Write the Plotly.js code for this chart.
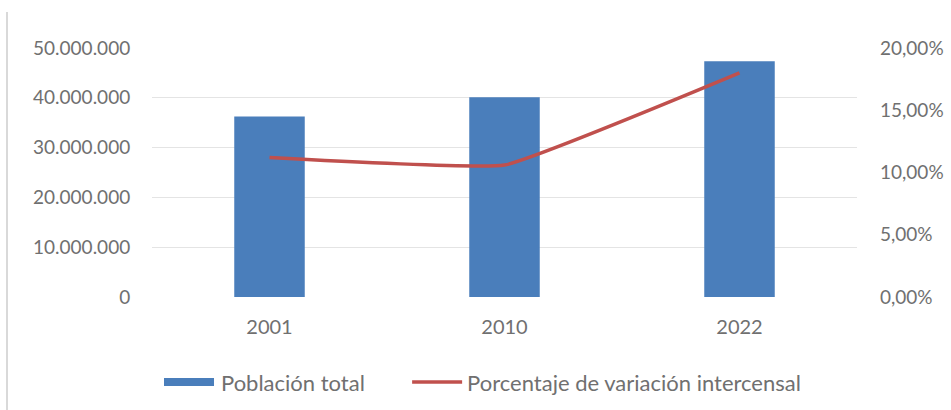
<!DOCTYPE html>
<html>
<head>
<meta charset="utf-8">
<script src="https://cdn.plot.ly/plotly-3.0.1.min.js"></script>
<style>html,body{margin:0;padding:0;background:#fff;}#chart{width:951px;height:410px;}</style>
</head>
<body>
<div id="chart"></div>
<script>
const years = ["2001", "2010", "2022"];
const poblacionTotal = [36260130, 40117096, 47327407];
const variacionIntercensal = [0.112, 0.106, 0.180];
const leftTicks = [0, 10000000, 20000000, 30000000, 40000000, 50000000];
const rightTicks = [0, 0.05, 0.10, 0.15, 0.20];

const FONT = "Lato, 'Open Sans', sans-serif";
const TXT = "#707070";

const traces = [
  {
    type: "bar",
    name: "Población total",
    x: years,
    y: poblacionTotal,
    marker: {color: "#4a7ebb"},
    yaxis: "y",
    legend: "legend"
  },
  {
    type: "scatter",
    mode: "lines",
    name: "Porcentaje de variación intercensal",
    x: years,
    y: variacionIntercensal,
    line: {color: "#c0504d", width: 3.5, shape: "spline", smoothing: 0.3},
    yaxis: "y2",
    legend: "legend2"
  }
];

const legendBase = {
  orientation: "h",
  xref: "container", yref: "container",
  xanchor: "left",
  y: 0.068, yanchor: "middle",
  font: {family: FONT, size: 22, color: TXT},
  itemwidth: 50,
  bgcolor: "rgba(0,0,0,0)"
};

const layout = {
  width: 951,
  height: 410,
  margin: {l: 152, r: 94, t: 48, b: 113},
  paper_bgcolor: "#ffffff",
  plot_bgcolor: "#ffffff",
  separators: ",.",
  font: {family: FONT, size: 19, color: TXT},
  bargap: 0.7,
  showlegend: true,
  legend: Object.assign({}, legendBase, {x: 0.1693}),
  legend2: Object.assign({}, legendBase, {x: 0.4281}),
  xaxis: {
    type: "category",
    showgrid: false,
    zeroline: false,
    showline: false,
    ticks: "",
    ticklabelstandoff: 16,
    tickfont: {family: FONT, size: 20, color: TXT}
  },
  yaxis: {
    range: [0, 50000000],
    tickvals: leftTicks,
    tickformat: ",d",
    showgrid: true,
    gridcolor: "#e4e4e4",
    gridwidth: 1,
    zeroline: false,
    showline: false,
    ticks: "outside",
    ticklen: 17,
    tickcolor: "rgba(0,0,0,0)",
    tickfont: {family: FONT, size: 19, color: TXT}
  },
  yaxis2: {
    overlaying: "y",
    side: "right",
    range: [0, 0.2],
    tickvals: rightTicks,
    tickformat: ".2%",
    showgrid: false,
    zeroline: false,
    showline: false,
    ticks: "",
    ticklabelstandoff: 22,
    tickfont: {family: FONT, size: 19, color: TXT}
  },
  shapes: [
    {type: "line", xref: "paper", yref: "paper", x0: -0.2057, x1: -0.2057, y0: 1.145, y1: -0.46,
     line: {color: "#d9d9d9", width: 2}}
  ]
};

Plotly.newPlot("chart", traces, layout, {displayModeBar: false, staticPlot: true}).then(function (gd) {
  // widen the bar legend symbol into a flat wide rectangle, as in the reference
  gd.querySelectorAll("path.legendbar, path.legendundefined").forEach(function (p) {
    p.setAttribute("d", "M-27,4H23V-4H-27Z");
  });
});
</script>
</body>
</html>
